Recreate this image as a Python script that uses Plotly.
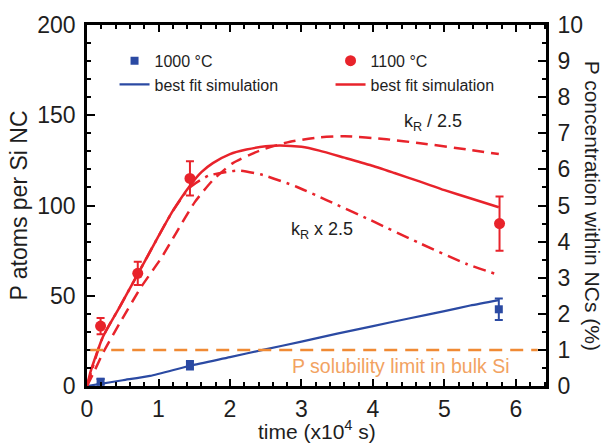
import plotly.graph_objects as go

# ---------------- data ----------------
p1000_t = [0.19, 1.44, 5.76]                 # time (x10^4 s)
p1000_v = [2.4, 11.5, 42.5]                  # P atoms per Si NC
p1000_err = [1.5, 2.3, 6.0]

p1100_t = [0.19, 0.71, 1.44, 5.77]
p1100_v = [33.2, 62.4, 115.0, 90.0]
p1100_err = [4.5, 6.5, 9.5, 15.0]

fit1000_t = [0, 0.19, 0.5, 0.88, 1.44, 2.0, 2.46, 3.0, 3.5, 4.0, 4.5, 5.0, 5.36, 5.76]
fit1000_v = [0, 1.2, 3.2, 5.6, 11.2, 16.0, 20.0, 24.6, 29.0, 33.2, 37.4, 41.5, 44.6, 47.6]

fit1100_t = [0, 0.05, 0.1, 0.22, 0.46, 0.71, 1.0, 1.2, 1.44, 1.6, 1.76, 2.0, 2.23, 2.5, 2.7,
             3.0, 3.25, 3.6, 3.96, 4.3, 4.66, 5.0, 5.36, 5.76]
fit1100_v = [0, 8, 14, 27, 44, 62, 83, 97, 111, 118.5, 123.5, 128.5, 131, 132.8, 133.3,
             132.5, 130.4, 126.5, 122.4, 118, 113.2, 108.5, 104, 99]

kr_div_t = [0, 0.1, 0.22, 0.46, 0.76, 1.04, 1.25, 1.51, 1.76, 2.04, 2.42, 2.84, 3.26, 3.6,
            4.19, 4.66, 5.31, 5.76]
kr_div_v = [0, 8, 18, 35, 55, 71, 85, 102, 114, 123.5, 130.5, 135.3, 137.8, 138.4,
            136.7, 134.5, 131.1, 128.5]

kr_mul_t = [0, 0.22, 0.46, 0.71, 1.0, 1.2, 1.44, 1.7, 2.0, 2.15, 2.46, 2.93, 3.35, 3.96,
            4.66, 5.31, 5.76]
kr_mul_v = [0, 27, 44, 62, 83, 97, 110, 116.5, 118.9, 119.3, 116.9, 110.4, 103, 92,
            79, 67.6, 61.5]

solubility_limit = 20  # P atoms per NC (1 %)

x_ticks = [0, 1, 2, 3, 4, 5, 6]
y_ticks = [0, 50, 100, 150, 200]
y2_ticks = list(range(0, 11))

BLUE = "#2B4AA3"
RED = "#E8232B"
ORANGE = "#F08A34"
ORANGE_TXT = "#F2A261"
FONT = "Arial, Liberation Sans, sans-serif"
TXT = "#1e1e1e"

fig = go.Figure()

fig.add_trace(go.Scatter(
    x=p1000_t, y=p1000_v, mode="markers", name="1000 °C",
    marker=dict(symbol="square", size=8, color=BLUE),
    error_y=dict(type="data", array=p1000_err, color=BLUE, thickness=2, width=4),
))
fig.add_trace(go.Scatter(
    x=p1100_t, y=p1100_v, mode="markers", name="1100 °C",
    marker=dict(symbol="circle", size=11, color=RED),
    error_y=dict(type="data", array=p1100_err, color=RED, thickness=2, width=4),
))
fig.add_trace(go.Scatter(
    x=fit1000_t, y=fit1000_v, mode="lines", name="best fit simulation",
    line=dict(color=BLUE, width=2.2, shape="spline", smoothing=0.6),
))
fig.add_trace(go.Scatter(
    x=fit1100_t, y=fit1100_v, mode="lines", name="best fit simulation",
    line=dict(color=RED, width=2.5, shape="spline", smoothing=0.6),
))
fig.add_trace(go.Scatter(
    x=kr_div_t, y=kr_div_v, mode="lines", showlegend=False,
    line=dict(color=RED, width=2.5, dash="12px,7px", shape="spline", smoothing=0.6),
))
fig.add_trace(go.Scatter(
    x=kr_mul_t, y=kr_mul_v, mode="lines", showlegend=False,
    line=dict(color=RED, width=2.5, dash="13px,6px,3px,6px", shape="spline", smoothing=0.6),
))

fig.add_shape(type="line", xref="paper", x0=0.007, x1=0.982, yref="y",
              y0=solubility_limit, y1=solubility_limit,
              line=dict(color=ORANGE, width=2.5, dash="13px,8px"))

fig.add_annotation(x=4.39, y=11.2, xref="x", yref="y", showarrow=False,
                   text="P solubility limit in bulk Si",
                   font=dict(family=FONT, size=19.5, color=ORANGE_TXT))
fig.add_annotation(x=4.84, y=146, xref="x", yref="y", showarrow=False,
                   text="k<sub>R</sub> / 2.5", font=dict(family=FONT, size=18, color=TXT))
fig.add_annotation(x=3.28, y=86, xref="x", yref="y", showarrow=False,
                   text="k<sub>R</sub> x 2.5", font=dict(family=FONT, size=18, color=TXT))
fig.add_annotation(x=1.102, y=0.5, xref="paper", yref="paper", showarrow=False,
                   xanchor="center", yanchor="middle",
                   textangle=90, text="P concentration within NCs (%)",
                   font=dict(family=FONT, size=21, color=TXT))
fig.add_annotation(x=0.5, y=-0.122, xref="paper", yref="paper", showarrow=False,
                   xanchor="center", yanchor="middle",
                   text="time (x10<sup>4</sup> s)",
                   font=dict(family=FONT, size=21, color=TXT))

axis_common = dict(showline=True, linecolor="black", linewidth=2.8, showgrid=False,
                   zeroline=False, ticks="inside", tickcolor="black", tickwidth=2,
                   tickfont=dict(family=FONT, size=23, color=TXT))

fig.update_layout(
    width=606, height=443,
    margin=dict(l=87, r=60, t=25, b=57),
    paper_bgcolor="white", plot_bgcolor="white",
    font=dict(family=FONT, color=TXT),
    xaxis=dict(range=[0, 6.42], tickvals=x_ticks, ticklen=7, mirror="ticks",
               minor=dict(dtick=0.2, ticklen=4, ticks="inside", tickcolor="black", tickwidth=1.5),
               ticklabelstandoff=0,
               **axis_common),
    yaxis=dict(range=[0, 200], tickvals=y_ticks, ticklen=8, mirror=False,
               minor=dict(dtick=10, ticklen=4, ticks="inside", tickcolor="black", tickwidth=1.5),
               title=dict(text="P atoms per Si NC", font=dict(family=FONT, size=23, color=TXT),
                          standoff=4),
               ticklabelstandoff=4,
               **axis_common),
    yaxis2=dict(range=[0, 10], tickvals=y2_ticks, ticklen=8, overlaying="y", side="right",
                minor=dict(dtick=0.5, ticklen=4, ticks="inside", tickcolor="black", tickwidth=1.5),
                ticklabelstandoff=4,
                **axis_common),
    legend=dict(orientation="h", x=0.06, y=0.948, xanchor="left", yanchor="top",
                entrywidth=171, entrywidthmode="pixels", bgcolor="rgba(0,0,0,0)",
                font=dict(family=FONT, size=16, color=TXT), tracegroupgap=0),
)

# dummy trace to activate yaxis2
fig.add_trace(go.Scatter(x=[None], y=[None], yaxis="y2", showlegend=False))

fig.write_html("out.html", config={"displayModeBar": False},
               post_script="document.body.style.margin='0';document.body.style.padding='0';")
